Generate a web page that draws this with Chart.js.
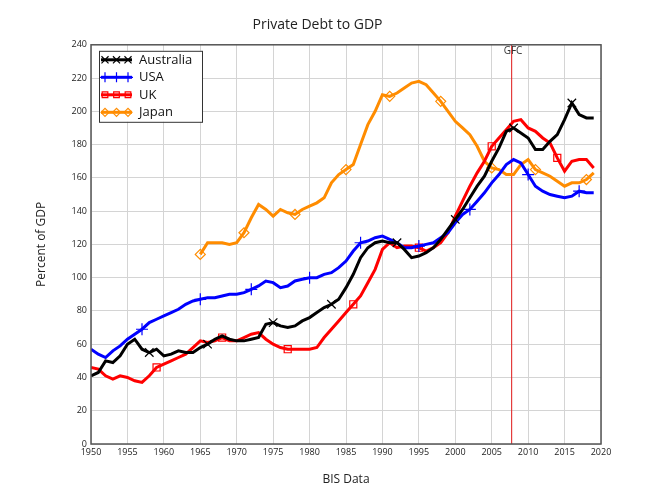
<!DOCTYPE html>
<html>
<head>
<meta charset="utf-8">
<script src="https://cdn.jsdelivr.net/npm/chart.js@4/dist/chart.umd.min.js"></script>
<style>
  html, body { margin: 0; padding: 0; background: #ffffff; }
  #wrap { width: 654px; height: 491px; }
</style>
</head>
<body>
<div id="wrap"><canvas id="c" width="654" height="491"></canvas></div>
<script>
const years = [];
for (let y = 1950; y <= 2019; y++) years.push(y);

const australia = [
  41, 43, 50, 49, 53, 60, 63, 57, 55, 57,
  53, 54, 56, 55, 55, 58, 60, 63, 65, 63,
  62, 62, 63, 64, 72, 73, 71, 70, 71, 74,
  76, 79, 82, 84, 87, 94, 102, 112, 118, 121,
  122, 121, 121, 117, 112, 113, 115, 118, 123, 129,
  135, 141, 148, 155, 161, 170, 178, 188, 190, 187,
  184, 177, 177, 182, 186, 195, 205, 198, 196, 196
];
const usa = [
  57, 54, 52, 56, 59, 63, 66, 69, 73, 75,
  77, 79, 81, 84, 86, 87, 88, 88, 89, 90,
  90, 91, 93, 95, 98, 97, 94, 95, 98, 99,
  100, 100, 102, 103, 106, 110, 116, 121, 122, 124,
  125, 123, 121, 118, 118, 119, 120, 121, 124, 127,
  133, 138, 141, 146, 151, 157, 162, 168, 171, 169,
  162, 155, 152, 150, 149, 148, 149, 152, 151, 151
];
const uk = [
  46, 45, 41, 39, 41, 40, 38, 37, 41, 46,
  48, 50, 52, 54, 58, 62, 61, 62, 64, 62,
  62, 64, 66, 67, 63, 60, 58, 57, 57, 57,
  57, 58, 64, 69, 74, 79, 84, 89, 97, 105,
  117, 121, 118, 119, 119, 118, 116, 118, 121, 127,
  137, 146, 155, 163, 170, 179, 184, 189, 194, 195,
  190, 188, 184, 181, 172, 164, 170, 171, 171, 166
];
const japan = [
  null, null, null, null, null, null, null, null, null, null,
  null, null, null, null, null, 114, 121, 121, 121, 120,
  121, 127, 136, 144, 141, 137, 141, 139, 138, 141,
  143, 145, 148, 157, 162, 165, 168, 180, 192, 200,
  210, 209, 211, 214, 217, 218, 216, 211, 206, 200,
  194, 190, 186, 179, 170, 166, 165, 162, 162, 168,
  171, 165, 163, 161, 158, 155, 157, 157, 159, 163
];

const seriesNames = ['Australia', 'USA', 'UK', 'Japan'];
const markerYears = {
  Australia: [1958, 1966, 1975, 1983, 1992, 2000, 2008, 2016],
  USA: [1957, 1965, 1972, 1980, 1987, 1995, 2002, 2010, 2017],
  UK: [1959, 1968, 1977, 1986, 1995, 2005, 2014],
  Japan: [1965, 1971, 1978, 1985, 1991, 1998, 2005, 2011, 2018]
};
const gfcYear = 2007.6;
const xTicks = [1950, 1955, 1960, 1965, 1970, 1975, 1980, 1985, 1990, 1995, 2000, 2005, 2010, 2015, 2020];

const FONT = "'Open Sans', 'DejaVu Sans', sans-serif";

const styles = {
  Australia: { color: '#000000', point: 'crossRot', r: 6 },
  USA: { color: '#0000ff', point: 'cross', r: 6 },
  UK: { color: '#ff0000', point: 'rect', r: 5 },
  Japan: { color: '#ff8c00', point: 'rectRot', r: 5 }
};

function toPoints(vals) {
  const pts = [];
  vals.forEach((v, i) => { if (v !== null) pts.push({ x: years[i], y: v }); });
  return pts;
}

const valueSets = [australia, usa, uk, japan];
const datasets = seriesNames.map((name, k) => {
  const st = styles[name];
  return {
    label: name,
    data: toPoints(valueSets[k]),
    borderColor: st.color,
    borderWidth: 3,
    tension: 0,
    pointStyle: st.point,
    pointBorderColor: st.color,
    pointBackgroundColor: 'rgba(0,0,0,0)',
    pointBorderWidth: 1.2,
    pointRadius: (ctx) => {
      const raw = ctx.raw;
      return raw && markerYears[name].includes(raw.x) ? st.r : 0;
    },
    pointHoverRadius: 0
  };
});

const decorPlugin = {
  id: 'decor',
  beforeDatasetsDraw(chart) {
    const { ctx, chartArea, scales } = chart;
    const gx = Math.round(scales.x.getPixelForValue(gfcYear));
    ctx.save();
    ctx.fillStyle = 'rgba(225, 40, 40, 0.9)';
    ctx.fillRect(gx, chartArea.top, 1.2, chartArea.bottom - chartArea.top);
    ctx.fillStyle = '#333';
    ctx.font = "10px " + FONT;
    ctx.textAlign = 'center';
    ctx.textBaseline = 'middle';
    ctx.fillText('GFC', gx + 2, chartArea.top + 6);
    ctx.restore();
  },
  afterDraw(chart) {
    const { ctx, chartArea } = chart;
    ctx.save();
    ctx.strokeStyle = '#555';
    ctx.lineWidth = 1.5;
    ctx.strokeRect(chartArea.left, chartArea.top, chartArea.right - chartArea.left, chartArea.bottom - chartArea.top);
    // legend
    const bx = chartArea.left + 8, by = chartArea.top + 6, bw = 103, bh = 71;
    ctx.fillStyle = '#ffffff';
    ctx.fillRect(bx, by, bw, bh);
    ctx.strokeStyle = '#333';
    ctx.lineWidth = 1;
    ctx.strokeRect(bx + 0.5, by + 0.5, bw, bh);
    chart.data.datasets.forEach((ds, i) => {
      const cy = by + 9 + i * 17.5;
      const st = styles[ds.label];
      ctx.strokeStyle = st.color;
      ctx.lineWidth = 3;
      ctx.beginPath();
      ctx.moveTo(bx + 2, cy);
      ctx.lineTo(bx + 33, cy);
      ctx.stroke();
      [bx + 6, bx + 17.5, bx + 29].forEach(px => {
        ctx.fillStyle = 'rgba(0,0,0,0)';
        ctx.strokeStyle = st.color;
        ctx.lineWidth = 1.2;
        Chart.helpers.drawPoint(ctx, {
          pointStyle: st.point,
          radius: st.r - 1,
          rotation: 0,
          borderWidth: 1.2
        }, px, cy);
      });
      ctx.fillStyle = '#111';
      ctx.font = "13px " + FONT;
      ctx.textAlign = 'left';
      ctx.textBaseline = 'middle';
      ctx.fillText(ds.label, bx + 40, cy);
    });
    ctx.restore();
  }
};

new Chart(document.getElementById('c'), {
  type: 'line',
  data: { datasets },
  plugins: [decorPlugin],
  options: {
    responsive: false,
    animation: false,
    devicePixelRatio: 1,
    layout: { padding: { left: 34, right: 53, top: 0, bottom: 0 } },
    plugins: {
      legend: { display: false },
      tooltip: { enabled: false },
      title: {
        display: true,
        text: 'Private Debt to GDP',
        color: '#222',
        font: { family: FONT, size: 14, weight: 'normal' },
        padding: { top: 17, bottom: 11 }
      }
    },
    scales: {
      x: {
        type: 'linear',
        min: 1950,
        max: 2020,
        afterBuildTicks: (s) => { s.ticks = xTicks.map(v => ({ value: v })); },
        afterFit: (s) => { s.height = 47; },
        ticks: {
          color: '#222',
          font: { family: FONT, size: 9 },
          padding: 3,
          maxRotation: 0,
          autoSkip: false,
          callback: (v) => String(v)
        },
        grid: { color: '#d4d4d4', lineWidth: 1, drawTicks: false },
        border: { display: false },
        title: {
          display: true,
          text: 'BIS Data',
          color: '#222',
          font: { family: FONT, size: 12 },
          padding: { top: 0, bottom: 4 }
        }
      },
      y: {
        min: 0,
        max: 240,
        afterFit: (s) => { s.width = 57; },
        ticks: {
          stepSize: 20,
          color: '#222',
          font: { family: FONT, size: 9 },
          padding: 4
        },
        grid: { color: '#d4d4d4', lineWidth: 1, drawTicks: false },
        border: { display: false },
        title: {
          display: true,
          text: 'Percent of GDP',
          color: '#222',
          font: { family: FONT, size: 12 },
          padding: { top: 0, bottom: 0 }
        }
      }
    }
  }
});
</script>
</body>
</html>
